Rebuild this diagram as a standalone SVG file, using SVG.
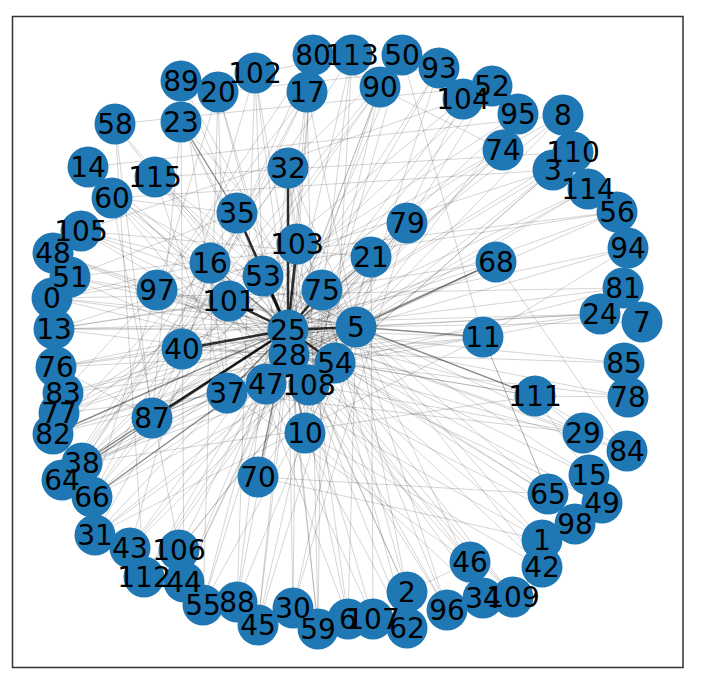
<svg xmlns="http://www.w3.org/2000/svg" width="710" height="688" viewBox="0 0 710 688">
<style>
.e{stroke:#000;stroke-opacity:.17;stroke-width:1}
.m{stroke:#000;stroke-opacity:.45;stroke-width:1.4}
.h{stroke:#000;stroke-opacity:.8;stroke-width:2.5}
.node circle{fill:#1f77b4}
#labels text{font-family:"DejaVu Sans",sans-serif;font-size:28px;fill:#000;text-anchor:middle}
</style>
<rect width="710" height="688" fill="#fff"/>
<rect x="12.5" y="16.5" width="670.5" height="651" fill="none" stroke="#333" stroke-width="1.5"/>
<g id="edges" fill="none">
<line class="e" x1="313" y1="55" x2="288" y2="330"/>
<line class="e" x1="313" y1="55" x2="289" y2="355"/>
<line class="e" x1="313" y1="55" x2="157" y2="290"/>
<line class="e" x1="313" y1="55" x2="503" y2="150"/>
<line class="e" x1="352" y1="55" x2="288" y2="330"/>
<line class="e" x1="352" y1="55" x2="305" y2="433"/>
<line class="e" x1="352" y1="55" x2="335" y2="363"/>
<line class="e" x1="352" y1="55" x2="82" y2="463"/>
<line class="e" x1="402" y1="55" x2="288" y2="330"/>
<line class="e" x1="402" y1="55" x2="309" y2="385"/>
<line class="e" x1="402" y1="55" x2="483" y2="337"/>
<line class="e" x1="402" y1="55" x2="62" y2="480"/>
<line class="e" x1="380" y1="87" x2="288" y2="330"/>
<line class="e" x1="380" y1="87" x2="266" y2="384"/>
<line class="e" x1="380" y1="87" x2="289" y2="355"/>
<line class="e" x1="380" y1="87" x2="92" y2="497"/>
<line class="e" x1="439" y1="68" x2="288" y2="330"/>
<line class="e" x1="439" y1="68" x2="227" y2="393"/>
<line class="e" x1="439" y1="68" x2="356" y2="327"/>
<line class="e" x1="463" y1="99" x2="288" y2="330"/>
<line class="e" x1="463" y1="99" x2="335" y2="363"/>
<line class="e" x1="463" y1="99" x2="53" y2="434"/>
<line class="e" x1="492" y1="86" x2="288" y2="330"/>
<line class="e" x1="492" y1="86" x2="309" y2="385"/>
<line class="e" x1="492" y1="86" x2="82" y2="463"/>
<line class="e" x1="518" y1="114" x2="288" y2="330"/>
<line class="e" x1="518" y1="114" x2="356" y2="327"/>
<line class="e" x1="518" y1="114" x2="59" y2="413"/>
<line class="e" x1="503" y1="150" x2="288" y2="330"/>
<line class="e" x1="503" y1="150" x2="289" y2="355"/>
<line class="e" x1="503" y1="150" x2="266" y2="384"/>
<line class="e" x1="563" y1="115" x2="288" y2="330"/>
<line class="e" x1="563" y1="115" x2="356" y2="327"/>
<line class="e" x1="563" y1="115" x2="229" y2="301"/>
<line class="e" x1="573" y1="152" x2="288" y2="330"/>
<line class="e" x1="573" y1="152" x2="335" y2="363"/>
<line class="e" x1="553" y1="170" x2="288" y2="330"/>
<line class="e" x1="553" y1="170" x2="356" y2="327"/>
<line class="e" x1="553" y1="170" x2="309" y2="385"/>
<line class="e" x1="553" y1="170" x2="54" y2="329"/>
<line class="e" x1="588" y1="189" x2="288" y2="330"/>
<line class="e" x1="588" y1="189" x2="356" y2="327"/>
<line class="e" x1="588" y1="189" x2="289" y2="355"/>
<line class="e" x1="617" y1="212" x2="288" y2="330"/>
<line class="e" x1="617" y1="212" x2="356" y2="327"/>
<line class="e" x1="617" y1="212" x2="52" y2="298"/>
<line class="e" x1="628" y1="248" x2="483" y2="337"/>
<line class="e" x1="628" y1="248" x2="356" y2="327"/>
<line class="e" x1="623" y1="288" x2="288" y2="330"/>
<line class="e" x1="623" y1="288" x2="335" y2="363"/>
<line class="e" x1="600" y1="314" x2="288" y2="330"/>
<line class="e" x1="600" y1="314" x2="356" y2="327"/>
<line class="e" x1="600" y1="314" x2="483" y2="337"/>
<line class="e" x1="600" y1="314" x2="289" y2="355"/>
<line class="e" x1="642" y1="322" x2="356" y2="327"/>
<line class="e" x1="624" y1="363" x2="288" y2="330"/>
<line class="e" x1="628" y1="397" x2="288" y2="330"/>
<line class="e" x1="628" y1="397" x2="535" y2="396"/>
<line class="e" x1="628" y1="397" x2="335" y2="363"/>
<line class="e" x1="627" y1="451" x2="288" y2="330"/>
<line class="e" x1="627" y1="451" x2="289" y2="355"/>
<line class="e" x1="627" y1="451" x2="535" y2="396"/>
<line class="e" x1="583" y1="433" x2="288" y2="330"/>
<line class="e" x1="583" y1="433" x2="535" y2="396"/>
<line class="e" x1="583" y1="433" x2="356" y2="327"/>
<line class="e" x1="583" y1="433" x2="309" y2="385"/>
<line class="e" x1="589" y1="475" x2="288" y2="330"/>
<line class="e" x1="589" y1="475" x2="356" y2="327"/>
<line class="e" x1="589" y1="475" x2="535" y2="396"/>
<line class="e" x1="602" y1="503" x2="288" y2="330"/>
<line class="e" x1="602" y1="503" x2="289" y2="355"/>
<line class="e" x1="548" y1="494" x2="288" y2="330"/>
<line class="e" x1="548" y1="494" x2="356" y2="327"/>
<line class="e" x1="548" y1="494" x2="483" y2="337"/>
<line class="e" x1="548" y1="494" x2="335" y2="363"/>
<line class="e" x1="575" y1="524" x2="288" y2="330"/>
<line class="e" x1="575" y1="524" x2="309" y2="385"/>
<line class="e" x1="542" y1="540" x2="288" y2="330"/>
<line class="e" x1="542" y1="540" x2="266" y2="384"/>
<line class="e" x1="542" y1="540" x2="356" y2="327"/>
<line class="e" x1="542" y1="567" x2="288" y2="330"/>
<line class="e" x1="542" y1="567" x2="356" y2="327"/>
<line class="e" x1="513" y1="597" x2="288" y2="330"/>
<line class="e" x1="513" y1="597" x2="289" y2="355"/>
<line class="e" x1="513" y1="597" x2="335" y2="363"/>
<line class="e" x1="483" y1="598" x2="288" y2="330"/>
<line class="e" x1="483" y1="598" x2="356" y2="327"/>
<line class="e" x1="470" y1="562" x2="288" y2="330"/>
<line class="e" x1="470" y1="562" x2="309" y2="385"/>
<line class="e" x1="470" y1="562" x2="227" y2="393"/>
<line class="e" x1="447" y1="610" x2="288" y2="330"/>
<line class="e" x1="447" y1="610" x2="289" y2="355"/>
<line class="e" x1="447" y1="610" x2="356" y2="327"/>
<line class="e" x1="407" y1="592" x2="288" y2="330"/>
<line class="e" x1="407" y1="592" x2="356" y2="327"/>
<line class="e" x1="407" y1="592" x2="322" y2="290"/>
<line class="e" x1="407" y1="628" x2="288" y2="330"/>
<line class="e" x1="407" y1="628" x2="335" y2="363"/>
<line class="e" x1="373" y1="619" x2="288" y2="330"/>
<line class="e" x1="373" y1="619" x2="371" y2="257"/>
<line class="e" x1="373" y1="619" x2="266" y2="384"/>
<line class="e" x1="348" y1="619" x2="288" y2="330"/>
<line class="e" x1="348" y1="619" x2="356" y2="327"/>
<line class="e" x1="348" y1="619" x2="229" y2="301"/>
<line class="e" x1="318" y1="629" x2="288" y2="330"/>
<line class="e" x1="318" y1="629" x2="289" y2="355"/>
<line class="e" x1="318" y1="629" x2="322" y2="290"/>
<line class="e" x1="293" y1="608" x2="288" y2="330"/>
<line class="e" x1="293" y1="608" x2="356" y2="327"/>
<line class="e" x1="293" y1="608" x2="297" y2="244"/>
<line class="e" x1="258" y1="625" x2="288" y2="330"/>
<line class="e" x1="258" y1="625" x2="289" y2="355"/>
<line class="e" x1="258" y1="625" x2="371" y2="257"/>
<line class="e" x1="237" y1="602" x2="288" y2="330"/>
<line class="e" x1="237" y1="602" x2="335" y2="363"/>
<line class="e" x1="237" y1="602" x2="288" y2="168"/>
<line class="e" x1="203" y1="605" x2="288" y2="330"/>
<line class="e" x1="203" y1="605" x2="356" y2="327"/>
<line class="e" x1="203" y1="605" x2="297" y2="244"/>
<line class="e" x1="184" y1="582" x2="288" y2="330"/>
<line class="e" x1="184" y1="582" x2="289" y2="355"/>
<line class="e" x1="184" y1="582" x2="322" y2="290"/>
<line class="e" x1="179" y1="550" x2="288" y2="330"/>
<line class="e" x1="179" y1="550" x2="356" y2="327"/>
<line class="e" x1="179" y1="550" x2="309" y2="385"/>
<line class="e" x1="144" y1="577" x2="288" y2="330"/>
<line class="e" x1="144" y1="577" x2="289" y2="355"/>
<line class="e" x1="144" y1="577" x2="371" y2="257"/>
<line class="e" x1="130" y1="548" x2="288" y2="330"/>
<line class="e" x1="130" y1="548" x2="356" y2="327"/>
<line class="e" x1="95" y1="535" x2="288" y2="330"/>
<line class="e" x1="95" y1="535" x2="356" y2="327"/>
<line class="e" x1="95" y1="535" x2="335" y2="363"/>
<line class="e" x1="92" y1="497" x2="288" y2="330"/>
<line class="e" x1="92" y1="497" x2="356" y2="327"/>
<line class="e" x1="92" y1="497" x2="309" y2="385"/>
<line class="e" x1="92" y1="497" x2="297" y2="244"/>
<line class="e" x1="62" y1="480" x2="356" y2="327"/>
<line class="e" x1="62" y1="480" x2="289" y2="355"/>
<line class="e" x1="62" y1="480" x2="371" y2="257"/>
<line class="e" x1="62" y1="480" x2="288" y2="168"/>
<line class="e" x1="82" y1="463" x2="356" y2="327"/>
<line class="e" x1="82" y1="463" x2="335" y2="363"/>
<line class="e" x1="82" y1="463" x2="309" y2="385"/>
<line class="e" x1="82" y1="463" x2="322" y2="290"/>
<line class="e" x1="82" y1="463" x2="297" y2="244"/>
<line class="e" x1="82" y1="463" x2="407" y2="223"/>
<line class="e" x1="53" y1="434" x2="356" y2="327"/>
<line class="e" x1="53" y1="434" x2="289" y2="355"/>
<line class="e" x1="53" y1="434" x2="335" y2="363"/>
<line class="e" x1="59" y1="413" x2="288" y2="330"/>
<line class="e" x1="59" y1="413" x2="356" y2="327"/>
<line class="e" x1="59" y1="413" x2="309" y2="385"/>
<line class="e" x1="63" y1="393" x2="288" y2="330"/>
<line class="e" x1="63" y1="393" x2="356" y2="327"/>
<line class="e" x1="63" y1="393" x2="483" y2="337"/>
<line class="e" x1="56" y1="367" x2="288" y2="330"/>
<line class="e" x1="56" y1="367" x2="356" y2="327"/>
<line class="e" x1="56" y1="367" x2="289" y2="355"/>
<line class="e" x1="54" y1="329" x2="288" y2="330"/>
<line class="e" x1="54" y1="329" x2="356" y2="327"/>
<line class="e" x1="54" y1="329" x2="335" y2="363"/>
<line class="e" x1="54" y1="329" x2="496" y2="262"/>
<line class="e" x1="52" y1="298" x2="288" y2="330"/>
<line class="e" x1="52" y1="298" x2="289" y2="355"/>
<line class="e" x1="52" y1="298" x2="356" y2="327"/>
<line class="e" x1="70" y1="277" x2="288" y2="330"/>
<line class="e" x1="70" y1="277" x2="356" y2="327"/>
<line class="e" x1="70" y1="277" x2="309" y2="385"/>
<line class="e" x1="53" y1="253" x2="288" y2="330"/>
<line class="e" x1="53" y1="253" x2="335" y2="363"/>
<line class="e" x1="81" y1="231" x2="288" y2="330"/>
<line class="e" x1="81" y1="231" x2="356" y2="327"/>
<line class="e" x1="81" y1="231" x2="289" y2="355"/>
<line class="e" x1="81" y1="231" x2="371" y2="257"/>
<line class="e" x1="112" y1="198" x2="288" y2="330"/>
<line class="e" x1="112" y1="198" x2="356" y2="327"/>
<line class="e" x1="112" y1="198" x2="309" y2="385"/>
<line class="e" x1="112" y1="198" x2="266" y2="384"/>
<line class="e" x1="88" y1="167" x2="288" y2="330"/>
<line class="e" x1="88" y1="167" x2="289" y2="355"/>
<line class="e" x1="155" y1="177" x2="288" y2="330"/>
<line class="e" x1="155" y1="177" x2="356" y2="327"/>
<line class="e" x1="155" y1="177" x2="263" y2="276"/>
<line class="e" x1="155" y1="177" x2="335" y2="363"/>
<line class="e" x1="115" y1="124" x2="288" y2="330"/>
<line class="e" x1="115" y1="124" x2="289" y2="355"/>
<line class="e" x1="181" y1="122" x2="288" y2="330"/>
<line class="e" x1="181" y1="122" x2="356" y2="327"/>
<line class="e" x1="181" y1="122" x2="309" y2="385"/>
<line class="e" x1="181" y1="81" x2="288" y2="330"/>
<line class="e" x1="181" y1="81" x2="335" y2="363"/>
<line class="e" x1="218" y1="92" x2="288" y2="330"/>
<line class="e" x1="218" y1="92" x2="289" y2="355"/>
<line class="e" x1="218" y1="92" x2="227" y2="393"/>
<line class="e" x1="255" y1="73" x2="288" y2="330"/>
<line class="e" x1="255" y1="73" x2="263" y2="276"/>
<line class="e" x1="255" y1="73" x2="309" y2="385"/>
<line class="e" x1="307" y1="92" x2="288" y2="330"/>
<line class="e" x1="307" y1="92" x2="356" y2="327"/>
<line class="e" x1="307" y1="92" x2="182" y2="349"/>
<line class="e" x1="307" y1="92" x2="266" y2="384"/>
<line class="e" x1="288" y1="168" x2="356" y2="327"/>
<line class="e" x1="288" y1="168" x2="289" y2="355"/>
<line class="e" x1="288" y1="168" x2="309" y2="385"/>
<line class="e" x1="288" y1="168" x2="335" y2="363"/>
<line class="e" x1="237" y1="213" x2="356" y2="327"/>
<line class="e" x1="237" y1="213" x2="289" y2="355"/>
<line class="e" x1="297" y1="244" x2="356" y2="327"/>
<line class="e" x1="297" y1="244" x2="289" y2="355"/>
<line class="e" x1="407" y1="223" x2="288" y2="330"/>
<line class="e" x1="407" y1="223" x2="289" y2="355"/>
<line class="e" x1="407" y1="223" x2="266" y2="384"/>
<line class="e" x1="371" y1="257" x2="289" y2="355"/>
<line class="e" x1="371" y1="257" x2="335" y2="363"/>
<line class="e" x1="496" y1="262" x2="288" y2="330"/>
<line class="e" x1="496" y1="262" x2="289" y2="355"/>
<line class="e" x1="210" y1="263" x2="356" y2="327"/>
<line class="e" x1="210" y1="263" x2="289" y2="355"/>
<line class="e" x1="263" y1="276" x2="356" y2="327"/>
<line class="e" x1="157" y1="290" x2="288" y2="330"/>
<line class="e" x1="157" y1="290" x2="356" y2="327"/>
<line class="e" x1="157" y1="290" x2="289" y2="355"/>
<line class="e" x1="157" y1="290" x2="335" y2="363"/>
<line class="e" x1="229" y1="301" x2="356" y2="327"/>
<line class="e" x1="229" y1="301" x2="289" y2="355"/>
<line class="e" x1="322" y1="290" x2="356" y2="327"/>
<line class="e" x1="322" y1="290" x2="289" y2="355"/>
<line class="e" x1="483" y1="337" x2="288" y2="330"/>
<line class="e" x1="483" y1="337" x2="289" y2="355"/>
<line class="e" x1="483" y1="337" x2="335" y2="363"/>
<line class="e" x1="182" y1="349" x2="356" y2="327"/>
<line class="e" x1="182" y1="349" x2="289" y2="355"/>
<line class="e" x1="289" y1="355" x2="356" y2="327"/>
<line class="e" x1="335" y1="363" x2="356" y2="327"/>
<line class="e" x1="309" y1="385" x2="356" y2="327"/>
<line class="e" x1="266" y1="384" x2="356" y2="327"/>
<line class="e" x1="227" y1="393" x2="356" y2="327"/>
<line class="e" x1="227" y1="393" x2="289" y2="355"/>
<line class="e" x1="535" y1="396" x2="288" y2="330"/>
<line class="e" x1="535" y1="396" x2="289" y2="355"/>
<line class="e" x1="535" y1="396" x2="335" y2="363"/>
<line class="e" x1="152" y1="418" x2="356" y2="327"/>
<line class="e" x1="152" y1="418" x2="289" y2="355"/>
<line class="e" x1="152" y1="418" x2="335" y2="363"/>
<line class="e" x1="305" y1="433" x2="288" y2="330"/>
<line class="e" x1="305" y1="433" x2="356" y2="327"/>
<line class="e" x1="258" y1="477" x2="356" y2="327"/>
<line class="e" x1="258" y1="477" x2="289" y2="355"/>
<line class="e" x1="307" y1="92" x2="92" y2="497"/>
<line class="e" x1="313" y1="55" x2="152" y2="418"/>
<line class="e" x1="380" y1="87" x2="182" y2="349"/>
<line class="e" x1="503" y1="150" x2="182" y2="349"/>
<line class="e" x1="496" y1="262" x2="152" y2="418"/>
<line class="e" x1="407" y1="223" x2="130" y2="548"/>
<line class="e" x1="483" y1="337" x2="95" y2="535"/>
<line class="e" x1="535" y1="396" x2="82" y2="463"/>
<line class="e" x1="583" y1="433" x2="227" y2="393"/>
<line class="e" x1="624" y1="363" x2="182" y2="349"/>
<line class="e" x1="628" y1="248" x2="56" y2="367"/>
<line class="e" x1="600" y1="314" x2="54" y2="329"/>
<line class="e" x1="623" y1="288" x2="52" y2="298"/>
<line class="e" x1="617" y1="212" x2="70" y2="277"/>
<line class="e" x1="553" y1="170" x2="112" y2="198"/>
<line class="e" x1="573" y1="152" x2="155" y2="177"/>
<line class="e" x1="563" y1="115" x2="88" y2="167"/>
<line class="e" x1="492" y1="86" x2="115" y2="124"/>
<line class="e" x1="463" y1="99" x2="81" y2="231"/>
<line class="e" x1="439" y1="68" x2="218" y2="92"/>
<line class="e" x1="402" y1="55" x2="237" y2="213"/>
<line class="e" x1="352" y1="55" x2="255" y2="73"/>
<line class="e" x1="496" y1="262" x2="627" y2="451"/>
<line class="e" x1="483" y1="337" x2="548" y2="494"/>
<line class="e" x1="548" y1="494" x2="258" y2="477"/>
<line class="e" x1="542" y1="540" x2="258" y2="477"/>
<line class="e" x1="542" y1="567" x2="305" y2="433"/>
<line class="e" x1="470" y1="562" x2="407" y2="592"/>
<line class="e" x1="483" y1="598" x2="305" y2="433"/>
<line class="e" x1="447" y1="610" x2="297" y2="244"/>
<line class="e" x1="407" y1="592" x2="237" y2="213"/>
<line class="e" x1="407" y1="628" x2="210" y2="263"/>
<line class="e" x1="348" y1="619" x2="288" y2="168"/>
<line class="e" x1="318" y1="629" x2="307" y2="92"/>
<line class="e" x1="293" y1="608" x2="407" y2="223"/>
<line class="e" x1="258" y1="625" x2="380" y2="87"/>
<line class="e" x1="237" y1="602" x2="255" y2="73"/>
<line class="e" x1="203" y1="605" x2="218" y2="92"/>
<line class="e" x1="184" y1="582" x2="181" y2="122"/>
<line class="e" x1="179" y1="550" x2="112" y2="198"/>
<line class="e" x1="144" y1="577" x2="115" y2="124"/>
<line class="e" x1="130" y1="548" x2="210" y2="263"/>
<line class="e" x1="95" y1="535" x2="229" y2="301"/>
<line class="e" x1="92" y1="497" x2="157" y2="290"/>
<line class="e" x1="62" y1="480" x2="237" y2="213"/>
<line class="e" x1="82" y1="463" x2="288" y2="168"/>
<line class="e" x1="53" y1="434" x2="210" y2="263"/>
<line class="e" x1="59" y1="413" x2="182" y2="349"/>
<line class="e" x1="63" y1="393" x2="157" y2="290"/>
<line class="e" x1="56" y1="367" x2="152" y2="418"/>
<line class="e" x1="54" y1="329" x2="229" y2="301"/>
<line class="e" x1="52" y1="298" x2="210" y2="263"/>
<line class="e" x1="70" y1="277" x2="237" y2="213"/>
<line class="e" x1="53" y1="253" x2="157" y2="290"/>
<line class="e" x1="81" y1="231" x2="210" y2="263"/>
<line class="e" x1="112" y1="198" x2="237" y2="213"/>
<line class="e" x1="88" y1="167" x2="229" y2="301"/>
<line class="e" x1="155" y1="177" x2="227" y2="393"/>
<line class="e" x1="115" y1="124" x2="152" y2="418"/>
<line class="e" x1="181" y1="122" x2="152" y2="418"/>
<line class="e" x1="181" y1="81" x2="227" y2="393"/>
<line class="e" x1="218" y1="92" x2="157" y2="290"/>
<line class="e" x1="255" y1="73" x2="152" y2="418"/>
<line class="e" x1="307" y1="92" x2="157" y2="290"/>
<line class="m" x1="181" y1="122" x2="237" y2="213"/>
<line class="m" x1="288" y1="330" x2="210" y2="263"/>
<line class="m" x1="288" y1="330" x2="371" y2="257"/>
<line class="m" x1="356" y1="327" x2="496" y2="262"/>
<line class="m" x1="288" y1="330" x2="227" y2="393"/>
<line class="m" x1="258" y1="477" x2="288" y2="330"/>
<line class="m" x1="305" y1="433" x2="289" y2="355"/>
<line class="m" x1="356" y1="327" x2="483" y2="337"/>
<line class="m" x1="356" y1="327" x2="535" y2="396"/>
<line class="m" x1="82" y1="463" x2="288" y2="330"/>
<line class="m" x1="62" y1="480" x2="288" y2="330"/>
<line class="m" x1="53" y1="434" x2="288" y2="330"/>
<line class="m" x1="92" y1="497" x2="289" y2="355"/>
<line class="h" x1="288" y1="330" x2="288" y2="168"/>
<line class="h" x1="288" y1="330" x2="297" y2="244"/>
<line class="h" x1="288" y1="330" x2="322" y2="290"/>
<line class="h" x1="288" y1="330" x2="356" y2="327"/>
<line class="h" x1="288" y1="330" x2="229" y2="301"/>
<line class="h" x1="288" y1="330" x2="182" y2="349"/>
<line class="h" x1="288" y1="330" x2="152" y2="418"/>
<line class="h" x1="288" y1="330" x2="263" y2="276"/>
<line class="h" x1="288" y1="330" x2="237" y2="213"/>
<line class="h" x1="288" y1="330" x2="266" y2="384"/>
<line class="h" x1="288" y1="330" x2="289" y2="355"/>
<line class="h" x1="288" y1="330" x2="309" y2="385"/>
<line class="h" x1="288" y1="330" x2="335" y2="363"/>
</g>
<g id="nodes">
<g id="node-0" class="node"><circle cx="52" cy="298" r="20.5"/></g>
<g id="node-1" class="node"><circle cx="542" cy="540" r="20.5"/></g>
<g id="node-2" class="node"><circle cx="407" cy="592" r="20.5"/></g>
<g id="node-3" class="node"><circle cx="553" cy="170" r="20.5"/></g>
<g id="node-5" class="node"><circle cx="356" cy="327" r="20.5"/></g>
<g id="node-6" class="node"><circle cx="348" cy="619" r="20.5"/></g>
<g id="node-7" class="node"><circle cx="642" cy="322" r="20.5"/></g>
<g id="node-8" class="node"><circle cx="563" cy="115" r="20.5"/></g>
<g id="node-10" class="node"><circle cx="305" cy="433" r="20.5"/></g>
<g id="node-11" class="node"><circle cx="483" cy="337" r="20.5"/></g>
<g id="node-13" class="node"><circle cx="54" cy="329" r="20.5"/></g>
<g id="node-14" class="node"><circle cx="88" cy="167" r="20.5"/></g>
<g id="node-15" class="node"><circle cx="589" cy="475" r="20.5"/></g>
<g id="node-16" class="node"><circle cx="210" cy="263" r="20.5"/></g>
<g id="node-17" class="node"><circle cx="307" cy="92" r="20.5"/></g>
<g id="node-20" class="node"><circle cx="218" cy="92" r="20.5"/></g>
<g id="node-21" class="node"><circle cx="371" cy="257" r="20.5"/></g>
<g id="node-23" class="node"><circle cx="181" cy="122" r="20.5"/></g>
<g id="node-24" class="node"><circle cx="600" cy="314" r="20.5"/></g>
<g id="node-25" class="node"><circle cx="288" cy="330" r="20.5"/></g>
<g id="node-28" class="node"><circle cx="289" cy="355" r="20.5"/></g>
<g id="node-29" class="node"><circle cx="583" cy="433" r="20.5"/></g>
<g id="node-30" class="node"><circle cx="293" cy="608" r="20.5"/></g>
<g id="node-31" class="node"><circle cx="95" cy="535" r="20.5"/></g>
<g id="node-32" class="node"><circle cx="288" cy="168" r="20.5"/></g>
<g id="node-34" class="node"><circle cx="483" cy="598" r="20.5"/></g>
<g id="node-35" class="node"><circle cx="237" cy="213" r="20.5"/></g>
<g id="node-37" class="node"><circle cx="227" cy="393" r="20.5"/></g>
<g id="node-38" class="node"><circle cx="82" cy="463" r="20.5"/></g>
<g id="node-40" class="node"><circle cx="182" cy="349" r="20.5"/></g>
<g id="node-42" class="node"><circle cx="542" cy="567" r="20.5"/></g>
<g id="node-43" class="node"><circle cx="130" cy="548" r="20.5"/></g>
<g id="node-44" class="node"><circle cx="184" cy="582" r="20.5"/></g>
<g id="node-45" class="node"><circle cx="258" cy="625" r="20.5"/></g>
<g id="node-46" class="node"><circle cx="470" cy="562" r="20.5"/></g>
<g id="node-47" class="node"><circle cx="266" cy="384" r="20.5"/></g>
<g id="node-48" class="node"><circle cx="53" cy="253" r="20.5"/></g>
<g id="node-49" class="node"><circle cx="602" cy="503" r="20.5"/></g>
<g id="node-50" class="node"><circle cx="402" cy="55" r="20.5"/></g>
<g id="node-51" class="node"><circle cx="70" cy="277" r="20.5"/></g>
<g id="node-52" class="node"><circle cx="492" cy="86" r="20.5"/></g>
<g id="node-53" class="node"><circle cx="263" cy="276" r="20.5"/></g>
<g id="node-54" class="node"><circle cx="335" cy="363" r="20.5"/></g>
<g id="node-55" class="node"><circle cx="203" cy="605" r="20.5"/></g>
<g id="node-56" class="node"><circle cx="617" cy="212" r="20.5"/></g>
<g id="node-58" class="node"><circle cx="115" cy="124" r="20.5"/></g>
<g id="node-59" class="node"><circle cx="318" cy="629" r="20.5"/></g>
<g id="node-60" class="node"><circle cx="112" cy="198" r="20.5"/></g>
<g id="node-62" class="node"><circle cx="407" cy="628" r="20.5"/></g>
<g id="node-64" class="node"><circle cx="62" cy="480" r="20.5"/></g>
<g id="node-65" class="node"><circle cx="548" cy="494" r="20.5"/></g>
<g id="node-66" class="node"><circle cx="92" cy="497" r="20.5"/></g>
<g id="node-68" class="node"><circle cx="496" cy="262" r="20.5"/></g>
<g id="node-70" class="node"><circle cx="258" cy="477" r="20.5"/></g>
<g id="node-74" class="node"><circle cx="503" cy="150" r="20.5"/></g>
<g id="node-75" class="node"><circle cx="322" cy="290" r="20.5"/></g>
<g id="node-76" class="node"><circle cx="56" cy="367" r="20.5"/></g>
<g id="node-77" class="node"><circle cx="59" cy="413" r="20.5"/></g>
<g id="node-78" class="node"><circle cx="628" cy="397" r="20.5"/></g>
<g id="node-79" class="node"><circle cx="407" cy="223" r="20.5"/></g>
<g id="node-80" class="node"><circle cx="313" cy="55" r="20.5"/></g>
<g id="node-81" class="node"><circle cx="623" cy="288" r="20.5"/></g>
<g id="node-82" class="node"><circle cx="53" cy="434" r="20.5"/></g>
<g id="node-83" class="node"><circle cx="63" cy="393" r="20.5"/></g>
<g id="node-84" class="node"><circle cx="627" cy="451" r="20.5"/></g>
<g id="node-85" class="node"><circle cx="624" cy="363" r="20.5"/></g>
<g id="node-87" class="node"><circle cx="152" cy="418" r="20.5"/></g>
<g id="node-88" class="node"><circle cx="237" cy="602" r="20.5"/></g>
<g id="node-89" class="node"><circle cx="181" cy="81" r="20.5"/></g>
<g id="node-90" class="node"><circle cx="380" cy="87" r="20.5"/></g>
<g id="node-93" class="node"><circle cx="439" cy="68" r="20.5"/></g>
<g id="node-94" class="node"><circle cx="628" cy="248" r="20.5"/></g>
<g id="node-95" class="node"><circle cx="518" cy="114" r="20.5"/></g>
<g id="node-96" class="node"><circle cx="447" cy="610" r="20.5"/></g>
<g id="node-97" class="node"><circle cx="157" cy="290" r="20.5"/></g>
<g id="node-98" class="node"><circle cx="575" cy="524" r="20.5"/></g>
<g id="node-101" class="node"><circle cx="229" cy="301" r="20.5"/></g>
<g id="node-102" class="node"><circle cx="255" cy="73" r="20.5"/></g>
<g id="node-103" class="node"><circle cx="297" cy="244" r="20.5"/></g>
<g id="node-104" class="node"><circle cx="463" cy="99" r="20.5"/></g>
<g id="node-105" class="node"><circle cx="81" cy="231" r="20.5"/></g>
<g id="node-106" class="node"><circle cx="179" cy="550" r="20.5"/></g>
<g id="node-107" class="node"><circle cx="373" cy="619" r="20.5"/></g>
<g id="node-108" class="node"><circle cx="309" cy="385" r="20.5"/></g>
<g id="node-109" class="node"><circle cx="513" cy="597" r="20.5"/></g>
<g id="node-110" class="node"><circle cx="573" cy="152" r="20.5"/></g>
<g id="node-111" class="node"><circle cx="535" cy="396" r="20.5"/></g>
<g id="node-112" class="node"><circle cx="144" cy="577" r="20.5"/></g>
<g id="node-113" class="node"><circle cx="352" cy="55" r="20.5"/></g>
<g id="node-114" class="node"><circle cx="588" cy="189" r="20.5"/></g>
<g id="node-115" class="node"><circle cx="155" cy="177" r="20.5"/></g>
</g>
<g id="labels">
<text x="52" y="308">0</text>
<text x="542" y="550">1</text>
<text x="407" y="602">2</text>
<text x="553" y="180">3</text>
<text x="356" y="337">5</text>
<text x="348" y="629">6</text>
<text x="642" y="332">7</text>
<text x="563" y="125">8</text>
<text x="305" y="443">10</text>
<text x="483" y="347">11</text>
<text x="54" y="339">13</text>
<text x="88" y="177">14</text>
<text x="589" y="485">15</text>
<text x="210" y="273">16</text>
<text x="307" y="102">17</text>
<text x="218" y="102">20</text>
<text x="371" y="267">21</text>
<text x="181" y="132">23</text>
<text x="600" y="324">24</text>
<text x="288" y="340">25</text>
<text x="289" y="365">28</text>
<text x="583" y="443">29</text>
<text x="293" y="618">30</text>
<text x="95" y="545">31</text>
<text x="288" y="178">32</text>
<text x="483" y="608">34</text>
<text x="237" y="223">35</text>
<text x="227" y="403">37</text>
<text x="82" y="473">38</text>
<text x="182" y="359">40</text>
<text x="542" y="577">42</text>
<text x="130" y="558">43</text>
<text x="184" y="592">44</text>
<text x="258" y="635">45</text>
<text x="470" y="572">46</text>
<text x="266" y="394">47</text>
<text x="53" y="263">48</text>
<text x="602" y="513">49</text>
<text x="402" y="65">50</text>
<text x="70" y="287">51</text>
<text x="492" y="96">52</text>
<text x="263" y="286">53</text>
<text x="335" y="373">54</text>
<text x="203" y="615">55</text>
<text x="617" y="222">56</text>
<text x="115" y="134">58</text>
<text x="318" y="639">59</text>
<text x="112" y="208">60</text>
<text x="407" y="638">62</text>
<text x="62" y="490">64</text>
<text x="548" y="504">65</text>
<text x="92" y="507">66</text>
<text x="496" y="272">68</text>
<text x="258" y="487">70</text>
<text x="503" y="160">74</text>
<text x="322" y="300">75</text>
<text x="56" y="377">76</text>
<text x="59" y="423">77</text>
<text x="628" y="407">78</text>
<text x="407" y="233">79</text>
<text x="313" y="65">80</text>
<text x="623" y="298">81</text>
<text x="53" y="444">82</text>
<text x="63" y="403">83</text>
<text x="627" y="461">84</text>
<text x="624" y="373">85</text>
<text x="152" y="428">87</text>
<text x="237" y="612">88</text>
<text x="181" y="91">89</text>
<text x="380" y="97">90</text>
<text x="439" y="78">93</text>
<text x="628" y="258">94</text>
<text x="518" y="124">95</text>
<text x="447" y="620">96</text>
<text x="157" y="300">97</text>
<text x="575" y="534">98</text>
<text x="229" y="311">101</text>
<text x="255" y="83">102</text>
<text x="297" y="254">103</text>
<text x="463" y="109">104</text>
<text x="81" y="241">105</text>
<text x="179" y="560">106</text>
<text x="373" y="629">107</text>
<text x="309" y="395">108</text>
<text x="513" y="607">109</text>
<text x="573" y="162">110</text>
<text x="535" y="406">111</text>
<text x="144" y="587">112</text>
<text x="352" y="65">113</text>
<text x="588" y="199">114</text>
<text x="155" y="187">115</text>
</g>
</svg>
